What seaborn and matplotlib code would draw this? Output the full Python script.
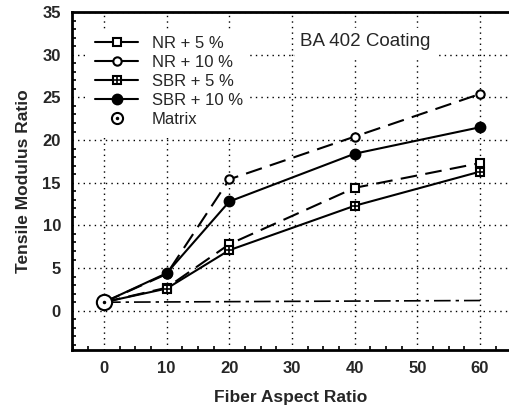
import matplotlib
matplotlib.use("Agg")
import matplotlib.pyplot as plt
import seaborn as sns
import pandas as pd
from matplotlib.ticker import MultipleLocator

aspect = [0, 10, 20, 40, 60]
nr5 = [1.0, 2.7, 7.8, 14.4, 17.3]
nr10 = [1.0, 4.3, 15.4, 20.4, 25.4]
sbr5 = [1.0, 2.6, 7.1, 12.3, 16.3]
sbr10 = [1.0, 4.4, 12.8, 18.4, 21.5]
matrix_x = [0, 60]
matrix_y = [1.0, 1.2]
labels = ["NR + 5 %", "NR + 10 %", "SBR + 5 %", "SBR + 10 %", "Matrix"]

sns.set_theme(style="white")
plt.rcParams['font.family'] = ['Liberation Sans', 'DejaVu Sans']

fig = plt.figure(figsize=(5.09, 4.07), dpi=100)
ax = fig.add_axes([0.1415, 0.14, 0.857, 0.8305])

df = pd.DataFrame({
    "x": aspect * 4,
    "y": nr5 + nr10 + sbr5 + sbr10,
    "s": [labels[0]] * 5 + [labels[1]] * 5 + [labels[2]] * 5 + [labels[3]] * 5,
})

# matrix dash-dot reference line
sns.lineplot(x=matrix_x, y=matrix_y, ax=ax, color="black", lw=1.2,
             linestyle=(0, (10, 3, 2, 3)), zorder=2)

styles = {
    labels[0]: dict(ls=(0, (8, 4)), marker="s", mfc="white", ms=6),
    labels[1]: dict(ls=(0, (8, 4)), marker="o", mfc="white", ms=6),
    labels[2]: dict(ls="-", marker="s", mfc="white", ms=6),
    labels[3]: dict(ls="-", marker="o", mfc="black", ms=7),
}
handles = []
for lab in labels[:4]:
    sub = df[df.s == lab]
    st = styles[lab]
    sns.lineplot(data=sub, x="x", y="y", ax=ax, color="black", lw=1.5,
                 linestyle=st["ls"], marker=st["marker"], markersize=st["ms"],
                 markerfacecolor=st["mfc"], markeredgecolor="black",
                 markeredgewidth=1.5, zorder=3)
    h, = ax.plot([], [], color="black", lw=1.5, ls="-", marker=st["marker"],
                 ms=st["ms"], mfc=st["mfc"], mec="black", mew=1.5)
    if lab == labels[2]:
        ax.plot(sub.x, sub.y, ls="none", marker="+", color="black", ms=6, mew=1.2, zorder=4)
        hp, = ax.plot([], [], ls="none", marker="+", color="black", ms=6, mew=1.2)
        h = (h, hp)
    handles.append(h)

# matrix point
ax.plot([aspect[0]], [nr5[0]], ls="none", marker="o", ms=11, mfc="white",
        mec="black", mew=1.5, zorder=5)
ax.plot([aspect[0]], [nr5[0]], ls="none", marker=".", ms=3, color="black", zorder=6)
hm, = ax.plot([], [], ls="none", marker="o", ms=8, mfc="white", mec="black", mew=1.5)
hd, = ax.plot([], [], ls="none", marker=".", ms=3, color="black")
handles.append((hm, hd))

ax.set_xlim(-5.1, 64.5)
ax.set_ylim(-4.6, 35)
ax.xaxis.set_major_locator(MultipleLocator(10))
ax.xaxis.set_minor_locator(MultipleLocator(2.5))
ax.yaxis.set_major_locator(MultipleLocator(5))
ax.yaxis.set_minor_locator(MultipleLocator(1))
ax.grid(True, which="major", color="black", linestyle=(0, (1, 3)), lw=1.0)
ax.tick_params(which="both", direction="in", color="black", labelsize=12)
ax.tick_params(which="major", length=5, width=1.5)
ax.tick_params(which="minor", length=3, width=1.2, bottom=True, left=True)
ax.tick_params(axis="both", pad=8)
for lbl in ax.get_xticklabels() + ax.get_yticklabels():
    lbl.set_fontweight("bold")
for sp in ["left", "bottom", "top"]:
    ax.spines[sp].set_color("black")
    ax.spines[sp].set_linewidth(2)
ax.spines["right"].set_visible(False)

ax.set_xlabel("Fiber Aspect Ratio", fontsize=12.5, fontweight="bold", labelpad=10)
ax.set_ylabel("Tensile Modulus Ratio", fontsize=12.5, fontweight="bold", labelpad=8)

leg = ax.legend(handles, labels, loc="upper left", bbox_to_anchor=(0.03, 0.96),
                frameon=True, fontsize=12, handlelength=2.6, labelspacing=0.25,
                borderaxespad=0.2, facecolor="white", edgecolor="white", framealpha=1)
leg.get_frame().set_linewidth(0)
ax.text(41.7, 31.5, "BA 402 Coating", fontsize=13.5, ha="center", va="center",
        backgroundcolor="white")

fig.savefig("out.png", dpi=100)
